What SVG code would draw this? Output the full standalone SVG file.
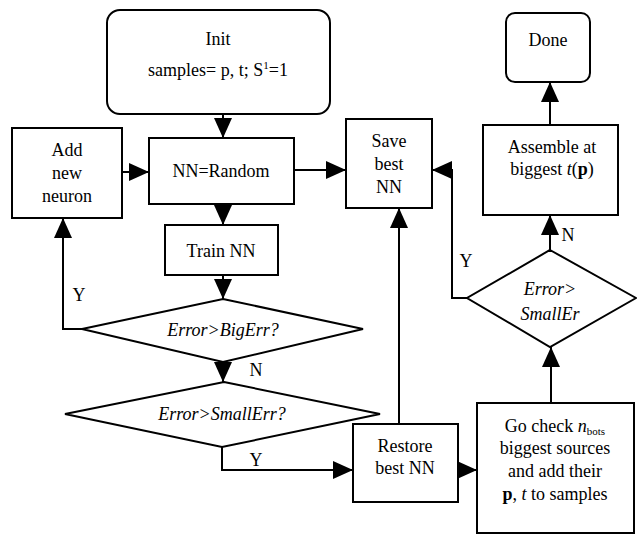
<svg xmlns="http://www.w3.org/2000/svg" width="637" height="537" viewBox="0 0 637 537">
<defs>
<marker id="ah" markerUnits="userSpaceOnUse" markerWidth="20" markerHeight="18" refX="20" refY="9" orient="auto">
<path d="M0,0 L20,9 L0,18 z" fill="#000"/>
</marker>
<style>
.box{fill:#fff;stroke:#000;stroke-width:2}
.t{font-family:"Liberation Serif","Times New Roman",serif;font-size:18px;fill:#000;text-anchor:middle}
.i{font-style:italic}
.b{font-weight:bold}
.c{fill:none;stroke:#000;stroke-width:2;marker-end:url(#ah)}
</style>
</defs>
<rect width="637" height="537" fill="#fff"/>

<g id="connectors">
<path class="c" d="M223 114 L223 138"/>
<path class="c" d="M122 172 L149 172"/>
<path class="c" d="M294 170 L346 170"/>
<path class="c" d="M223 204 L223 225"/>
<path class="c" d="M223 275 L223 299"/>
<path class="c" d="M82 329 L63 329 L63 218"/>
<path class="c" d="M223 362 L223 382"/>
<path class="c" d="M222 447 L222 470 L353 470"/>
<path class="c" d="M399 424 L399 208"/>
<path class="c" d="M458 470 L477 470"/>
<path class="c" d="M551 403 L551 347"/>
<path class="c" d="M550 250 L550 215"/>
<path class="c" d="M467 298 L452 298 L452 170 L432 170"/>
<path class="c" d="M550 125 L550 82"/>
<text class="t" x="79" y="301">Y</text>
<text class="t" x="256" y="376">N</text>
<text class="t" x="256" y="466">Y</text>
<text class="t" x="568" y="241">N</text>
<text class="t" x="466" y="267">Y</text>
</g>

<g id="init">
<rect class="box" x="107" y="10" width="223" height="104" rx="13"/>
<text class="t" x="218" y="45">Init</text>
<text class="t" x="218" y="76">samples= p, t; S<tspan dy="-7" font-size="11">1</tspan><tspan dy="7">=1</tspan></text>
</g>

<g id="add">
<rect class="box" x="12" y="128" width="110" height="90"/>
<text class="t" x="67" y="156">Add</text>
<text class="t" x="67" y="179">new</text>
<text class="t" x="67" y="202">neuron</text>
</g>

<g id="random">
<rect class="box" x="149" y="138" width="145" height="66"/>
<text class="t" x="221" y="177">NN=Random</text>
</g>

<g id="save">
<rect class="box" x="346" y="119" width="86" height="89"/>
<text class="t" x="389" y="147">Save</text>
<text class="t" x="389" y="170">best</text>
<text class="t" x="389" y="193">NN</text>
</g>

<g id="done">
<rect class="box" x="506" y="13" width="84" height="69" rx="9"/>
<text class="t" x="548" y="46">Done</text>
</g>

<g id="assemble">
<rect class="box" x="483" y="125" width="135" height="90"/>
<text class="t" x="552" y="153">Assemble at</text>
<text class="t" x="552" y="175">biggest <tspan class="i">t</tspan>(<tspan class="b">p</tspan>)</text>
</g>

<g id="train">
<rect class="box" x="165" y="225" width="113" height="50"/>
<text class="t" x="221" y="257">Train NN</text>
</g>

<g id="bigerr">
<path class="box" d="M223 299 L363 329 L223 362 L82 329 Z"/>
<text class="t i" x="223" y="336">Error&gt;BigErr?</text>
</g>

<g id="smallerr">
<path class="box" d="M224 382 L380 414 L222 447 L65 414 Z"/>
<text class="t i" x="222" y="420">Error&gt;SmallErr?</text>
</g>

<g id="smaller2">
<path class="box" d="M550 250 L636 298 L550 347 L467 298 Z"/>
<text class="t i" x="550" y="295">Error&gt;</text>
<text class="t i" x="550" y="320">SmallEr</text>
</g>

<g id="restore">
<rect class="box" x="353" y="424" width="105" height="78"/>
<text class="t" x="405" y="452">Restore</text>
<text class="t" x="405" y="474">best NN</text>
</g>

<g id="gocheck">
<rect class="box" x="477" y="403" width="157" height="130"/>
<text class="t" x="555" y="432">Go check <tspan class="i">n</tspan><tspan font-size="11" dy="3">bots</tspan></text>
<text class="t" x="555" y="454">biggest sources</text>
<text class="t" x="555" y="477">and add their</text>
<text class="t" x="555" y="500"><tspan class="b">p</tspan>, <tspan class="i">t</tspan> to samples</text>
</g>
</svg>
